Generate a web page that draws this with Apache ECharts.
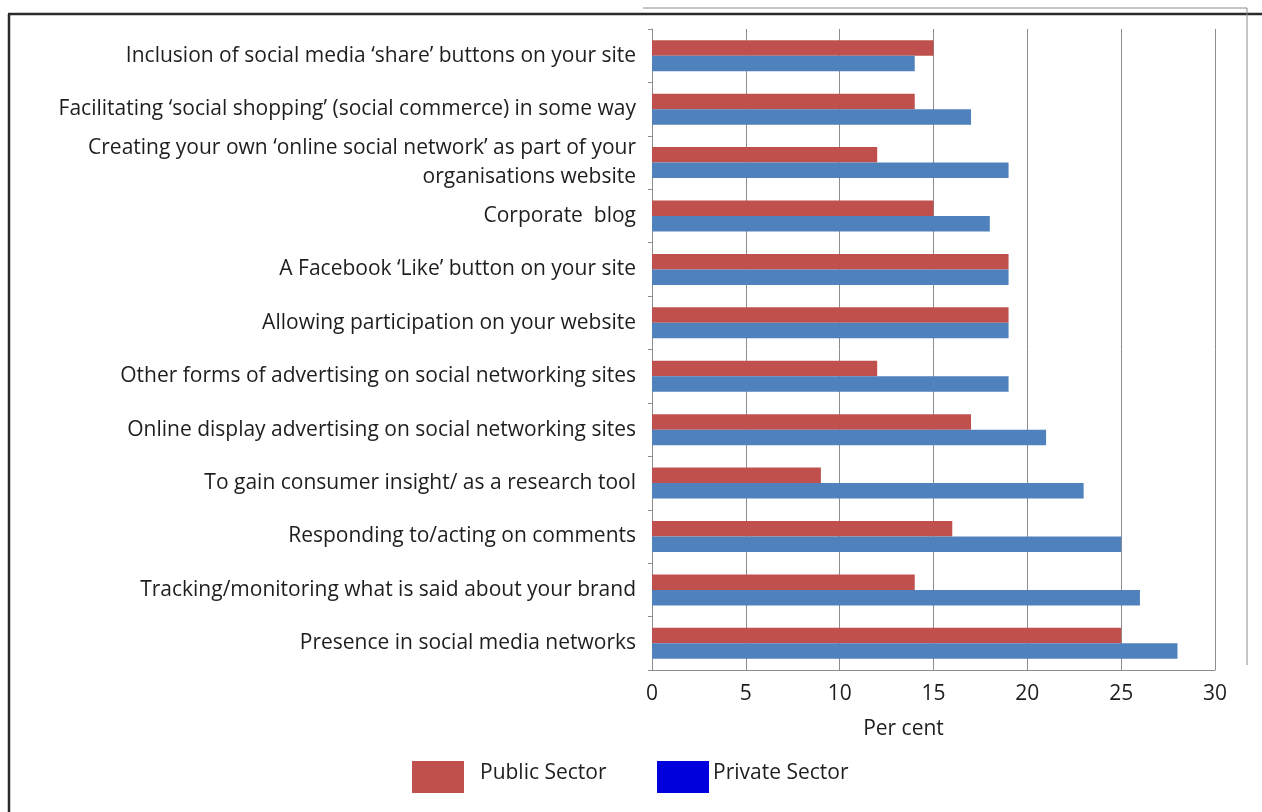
<!DOCTYPE html>
<html>
<head>
<meta charset="utf-8">
<title>Social media activities by sector</title>
<script src="https://cdn.jsdelivr.net/npm/echarts@6/dist/echarts.min.js"></script>
<style>
  html, body { margin: 0; padding: 0; background: #fff; }
  #chart { width: 1262px; height: 812px; }
</style>
</head>
<body>
<div id="chart"></div>
<script>
// Activities surveyed (top to bottom)
const categories = [
  "Inclusion of social media \u2018share\u2019 buttons on your site",
  "Facilitating \u2018social shopping\u2019 (social commerce) in some way",
  "Creating your own \u2018online social network\u2019 as part of your\norganisations website",
  "Corporate  blog",
  "A Facebook \u2018Like\u2019 button on your site",
  "Allowing participation on your website",
  "Other forms of advertising on social networking sites",
  "Online display advertising on social networking sites",
  "To gain consumer insight/ as a research tool",
  "Responding to/acting on comments",
  "Tracking/monitoring what is said about your brand",
  "Presence in social media networks"
];

// Share of respondents, per cent
const publicSector  = [15, 14, 12, 15, 19, 19, 12, 17, 9, 16, 14, 25];
const privateSector = [14, 17, 19, 18, 19, 19, 19, 21, 23, 25, 26, 28];

const xTicks = [0, 5, 10, 15, 20, 25, 30];

const FONT = '"Open Sans", "Noto Sans", sans-serif';
const FS = 21;
const TEXT = '#1e1e1e';
const AXIS = '#8c8c8c';

const chart = echarts.init(document.getElementById('chart'), null, { renderer: 'canvas' });

// legend entry text sits slightly above the swatch centre
function legendText(leftGap) {
  return {
    fontFamily: FONT, fontSize: FS, color: TEXT,
    rich: { t: { fontFamily: FONT, fontSize: FS, color: TEXT, padding: [0, 0, 7, leftGap] } }
  };
}

chart.setOption({
  animation: false,
  backgroundColor: '#ffffff',
  textStyle: { fontFamily: FONT, color: TEXT },
  grid: { left: 652, right: 47, top: 29, bottom: 142, containLabel: false },
  legend: [
    {
      left: 412, top: 761, padding: 0,
      itemWidth: 52, itemHeight: 32,
      icon: 'rect',
      selectedMode: false,
      formatter: '{t|{name}}',
      textStyle: legendText(11),
      data: [{ name: 'Public Sector', itemStyle: { color: '#C0504D' } }]
    },
    {
      left: 657, top: 761, padding: 0,
      itemWidth: 52, itemHeight: 32,
      icon: 'rect',
      selectedMode: false,
      formatter: '{t|{name}}',
      textStyle: legendText(-1),
      data: [{ name: 'Private Sector', itemStyle: { color: '#0000DD' } }]
    }
  ],
  xAxis: {
    type: 'value',
    min: xTicks[0],
    max: xTicks[xTicks.length - 1],
    interval: 5,
    name: 'Per cent',
    nameLocation: 'middle',
    nameGap: 49,
    nameTextStyle: { fontFamily: FONT, fontSize: FS, color: TEXT, padding: [0, 60, 0, 0] },
    axisLine: { show: true, lineStyle: { color: AXIS, width: 1 } },
    axisTick: { show: false },
    axisLabel: { fontFamily: FONT, fontSize: FS, color: TEXT, margin: 14 },
    splitLine: { show: true, lineStyle: { color: AXIS, width: 1 } }
  },
  yAxis: {
    type: 'category',
    inverse: true,
    data: categories,
    axisLine: { show: true, lineStyle: { color: AXIS, width: 1 } },
    axisTick: { show: true, length: 4, inside: false, lineStyle: { color: AXIS } },
    axisLabel: {
      fontFamily: FONT, fontSize: FS, color: TEXT,
      margin: 16, lineHeight: 29, align: 'right',
      padding: [0, 0, 12, 0]
    },
    splitLine: { show: false }
  },
  series: [
    {
      name: 'Public Sector',
      type: 'bar',
      data: publicSector,
      barWidth: 15.5,
      barGap: '0%',
      itemStyle: { color: '#C0504D' }
    },
    {
      name: 'Private Sector',
      type: 'bar',
      data: privateSector,
      barWidth: 15.5,
      barGap: '0%',
      itemStyle: { color: '#4F81BD' }
    }
  ],
  graphic: [
    // outer frame
    { type: 'line', silent: true, shape: { x1: 8, y1: 14, x2: 1262, y2: 14 }, style: { stroke: '#2a2a2a', lineWidth: 2.5 } },
    { type: 'line', silent: true, shape: { x1: 9, y1: 14, x2: 9, y2: 812 }, style: { stroke: '#2a2a2a', lineWidth: 2.5 } },
    // inner panel edge
    { type: 'line', silent: true, shape: { x1: 643, y1: 8, x2: 1247, y2: 8 }, style: { stroke: AXIS, lineWidth: 1 } },
    { type: 'line', silent: true, shape: { x1: 1247, y1: 8, x2: 1247, y2: 665 }, style: { stroke: AXIS, lineWidth: 1 } }
  ]
});
</script>
</body>
</html>
